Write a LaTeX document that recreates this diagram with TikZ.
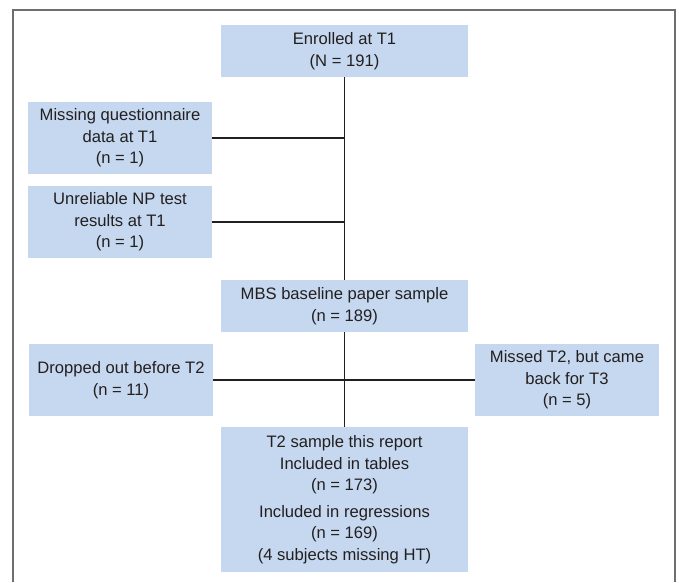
\documentclass[tikz,border=0pt]{standalone}
\usepackage{fontspec}
\setmainfont{Liberation Sans}
\definecolor{boxfill}{RGB}{197,216,239}
\definecolor{txt}{RGB}{35,31,32}
\definecolor{framec}{RGB}{110,110,110}
\begin{document}
\begin{tikzpicture}[x=1pt,y=-1pt,
  box/.style={rectangle, fill=boxfill, draw=none, align=center, inner sep=0pt,
    text=txt, font=\fontsize{16.6}{21.5}\selectfont},
  link/.style={line width=1.7pt, draw=txt}]
\useasboundingbox (0,0) rectangle (679,582);
\draw[framec, line width=1.5pt] (13,582) -- (13,10) -- (675,10) -- (675,582);
\node[box, minimum width=247, minimum height=52] (enr) at (344.5,51) {Enrolled at T1\\(N = 191)};
\node[box, minimum width=184, minimum height=72] (miss) at (120,138) {Missing questionnaire\\data at T1\\(n = 1)};
\node[box, minimum width=184, minimum height=72] (unrel) at (120,222) {Unreliable NP test\\results at T1\\(n = 1)};
\node[box, minimum width=247, minimum height=52] (mbs) at (344.5,306) {MBS baseline paper sample\\(n = 189)};
\node[box, minimum width=184, minimum height=72] (drop) at (121,380) {Dropped out before T2\\(n = 11)};
\node[box, minimum width=184, minimum height=72] (back) at (567,380) {Missed T2, but came\\back for T3\\(n = 5)};
\node[box, minimum width=247, minimum height=145] (t2) at (344.5,499.5) {T2 sample this report\\Included in tables\\(n = 173)\\[5pt]Included in regressions\\(n = 169)\\(4 subjects missing HT)};
\draw[link] (enr.south) -- (mbs.north);
\draw[link] (mbs.south) -- (t2.north);
\draw[link] (miss.east) -- (miss.east -| enr.south);
\draw[link] (unrel.east) -- (unrel.east -| enr.south);
\draw[link] (drop.east) -- (back.west);
\end{tikzpicture}
\end{document}
